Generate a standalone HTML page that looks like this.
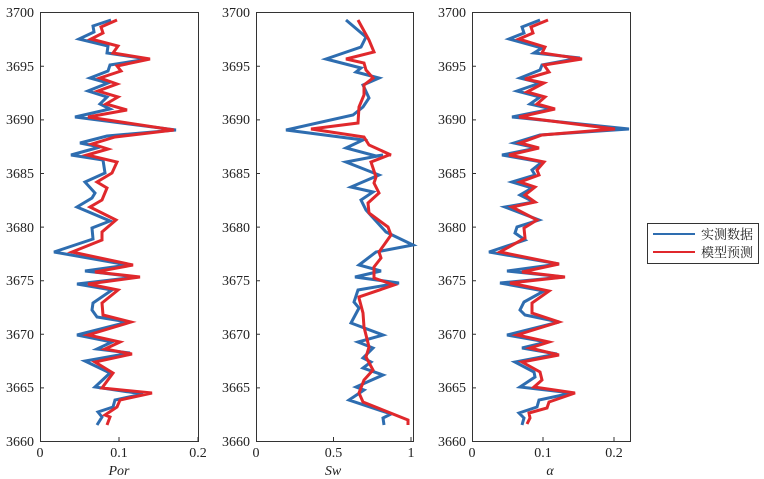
<!DOCTYPE html>
<html><head><meta charset="utf-8"><style>
html,body{margin:0;padding:0;background:#fff;}
svg{display:block;}
text{font-family:"Liberation Serif","Noto Serif CJK SC",serif;fill:#222;}
</style></head><body>
<svg width="764" height="479" viewBox="0 0 764 479" xmlns="http://www.w3.org/2000/svg">
<g fill="none" stroke="#333" stroke-width="1">
<rect x="40.5" y="12.5" width="158" height="429"/>
<rect x="256.5" y="12.5" width="157" height="429"/>
<rect x="472.5" y="12.5" width="158" height="429"/>
</g>
<g stroke="#333" stroke-width="1">
<path d="M40 66.3h4M40 119.9h4M40 173.5h4M40 227.1h4M40 280.7h4M40 334.3h4M40 387.9h4M119 441v-4M198 441v-4"/>
<path d="M256 66.3h4M256 119.9h4M256 173.5h4M256 227.1h4M256 280.7h4M256 334.3h4M256 387.9h4M333.5 441v-4M411 441v-4"/>
<path d="M472 66.3h4M472 119.9h4M472 173.5h4M472 227.1h4M472 280.7h4M472 334.3h4M472 387.9h4M543 441v-4M614 441v-4"/>
</g>
<g font-size="14" text-anchor="end">
<text x="34" y="17">3700</text><text x="34" y="71">3695</text><text x="34" y="124">3690</text><text x="34" y="178">3685</text><text x="34" y="232">3680</text><text x="34" y="285">3675</text><text x="34" y="339">3670</text><text x="34" y="392">3665</text><text x="34" y="446">3660</text>
<text x="250" y="17">3700</text><text x="250" y="71">3695</text><text x="250" y="124">3690</text><text x="250" y="178">3685</text><text x="250" y="232">3680</text><text x="250" y="285">3675</text><text x="250" y="339">3670</text><text x="250" y="392">3665</text><text x="250" y="446">3660</text>
<text x="466" y="17">3700</text><text x="466" y="71">3695</text><text x="466" y="124">3690</text><text x="466" y="178">3685</text><text x="466" y="232">3680</text><text x="466" y="285">3675</text><text x="466" y="339">3670</text><text x="466" y="392">3665</text><text x="466" y="446">3660</text>
</g>
<g font-size="14" text-anchor="middle">
<text x="40" y="457">0</text><text x="119" y="457">0.1</text><text x="198" y="457">0.2</text>
<text x="256" y="457">0</text><text x="333.5" y="457">0.5</text><text x="411" y="457">1</text>
<text x="472" y="457">0</text><text x="543" y="457">0.1</text><text x="614" y="457">0.2</text>
<text x="119" y="475" font-style="italic">Por</text>
<text x="333" y="475" font-style="italic">Sw</text>
<text x="550" y="475" font-style="italic">α</text>
</g>
<g fill="none" stroke-width="3" stroke-linejoin="miter" stroke-linecap="butt">
<polyline stroke="#2e6db0" points="111,20 93,26 94,32 79,39 108,46 107,53 148,59 110,65 108,71 90,78 108,83 88,91 107,97 100,104 110,109 75,117 176,130 107,136 80,143 100,147 71,155 103,160 105,173 85,182 95,193 92,198 77,207 110,221 92,228 93,239 54,252 128,265 85,271 137,277 77,284 112,290 93,303 92,310 97,317 128,322 77,335 112,342 97,349 130,353 85,361 110,373 95,387 143,394 115,400 113,407 98,412 102,417 97,425"/>
<polyline stroke="#e0282c" points="117,20 101,27 103,33 91,39 118,46 113,53 150,59 117,66 121,71 100,78 117,84 98,91 118,97 106,104 127,110 88,117 174,130 115,137 92,144 108,149 87,155 117,162 112,173 97,182 107,188 102,200 90,207 116,220 102,232 102,240 72,252 133,265 95,272 140,277 88,284 118,290 102,303 103,315 131,322 88,335 120,342 105,349 132,354 95,362 113,373 102,388 152,393 120,400 117,407 105,415 110,417 107,425"/>
<polyline stroke="#2e6db0" points="346,20 366,37 361,47 326,59 361,68 356,72 379,78 363,85 369,98 363,107 353,115 286,130 363,140 346,148 376,156 383,155 346,162 379,175 351,187 373,192 361,200 366,210 386,232 413,245 376,252 359,265 381,271 355,277 399,283 358,290 354,302 359,308 351,323 383,335 358,342 373,348 363,358 371,362 363,368 383,375 356,387 364,390 349,400 391,414 383,418 384,425"/>
<polyline stroke="#e0282c" points="358,20 369,40 374,52 346,59 364,63 366,70 373,78 364,85 364,95 359,107 358,123 311,129 364,137 369,145 391,155 389,155 371,162 376,177 374,183 379,193 368,203 369,213 388,227 391,235 379,252 381,258 374,267 374,278 394,285 359,297 359,298 363,313 364,327 369,347 366,357 373,370 364,380 359,393 363,402 408,420 408,425"/>
<polyline stroke="#2e6db0" points="540,20 522,27 524,33 509,39 542,48 534,53 580,58 542,65 540,70 520,78 540,83 517,91 540,97 530,104 552,109 512,117 629,129 540,135 514,143 537,148 502,155 542,162 532,170 535,175 512,182 532,188 520,195 534,202 505,207 539,220 517,227 515,233 525,240 489,252 559,264 507,271 564,277 500,283 544,291 524,302 520,310 525,315 559,322 507,335 547,342 522,348 557,354 515,362 534,372 535,377 520,387 572,393 539,400 537,407 519,413 524,418 522,425"/>
<polyline stroke="#e0282c" points="548,20 531,27 533,33 519,39 545,47 542,53 582,59 544,65 549,72 525,79 544,83 527,92 545,97 537,104 555,109 519,117 615,129 542,135 520,143 539,148 509,155 544,162 537,170 539,175 520,182 535,187 525,195 535,202 512,207 537,220 524,228 525,238 500,252 559,264 522,272 565,277 510,283 549,291 532,303 532,313 559,322 517,335 549,342 530,348 559,355 522,362 540,372 542,380 534,387 575,393 549,402 547,408 529,413 530,418 527,424"/>
</g>
<rect x="647.5" y="223.5" width="111" height="40" fill="#fff" stroke="#333" stroke-width="1"/>
<line x1="653" y1="234" x2="695" y2="234" stroke="#2e6db0" stroke-width="2"/>
<line x1="653" y1="252" x2="695" y2="252" stroke="#e0282c" stroke-width="2"/>
<g font-size="13" style="font-family:'Noto Sans CJK SC','WenQuanYi Zen Hei',sans-serif">
<text x="701" y="239">实测数据</text>
<text x="701" y="257">模型预测</text>
</g>
</svg>
</body></html>
